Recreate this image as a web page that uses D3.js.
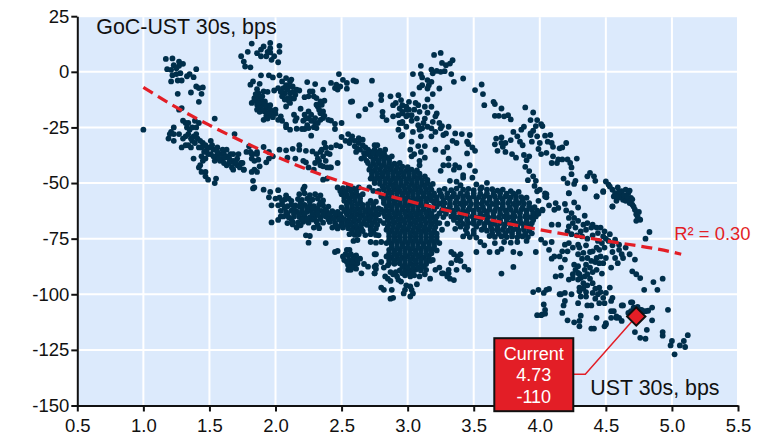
<!DOCTYPE html>
<html>
<head>
<meta charset="utf-8">
<script src="https://cdnjs.cloudflare.com/ajax/libs/d3/7.8.5/d3.min.js"></script>
<style>
  html, body { margin: 0; padding: 0; background: #fff; }
  text { font-family: "Liberation Sans", Arial, sans-serif; }
</style>
</head>
<body>
<svg id="chart"></svg>
<script>
const xTicks = [0.5, 1, 1.5, 2, 2.5, 3, 3.5, 4, 4.5, 5, 5.5];
const yTicks = [25, 0, -25, -50, -75, -100, -125, -150];

const trendX = [1, 1.25, 1.5, 2, 2.5, 3, 3.5, 4, 4.5, 5, 5.07];
const trendY = [-7, -16, -24, -38, -49.5, -58, -65, -71, -76, -81, -82];

const current = [4.73, -110];

// cluster by cluster: [UST 30s, GoC-UST 30s]
const topLeft = [[1,-26],[1.17,5.8],[1.22,6],[1.27,4.6],[1.3,3.6],[1.23,3],[1.27,2.7],[1.18,1.2],[1.21,.9],[1.25,1.6],[1.22,-1.5],[1.25,-1],[1.28,-.6],[1.21,-4.3],[1.26,-3.9],[1.29,-3.9],[1.33,-2],[1.35,-1],[1.38,-2.4],[1.4,1.2],[1.4,-6.6],[1.42,-7.3],[1.45,-7],[1.36,-9.3],[1.44,-9.9],[1.26,-9.9],[1.42,-13.5],[1.29,-16.3],[1.27,-17]];

const lowSlope = [[1.23,-25],[1.21,-27],[1.19,-30],[1.23,-28],[1.27,-28],[1.23,-31],[1.2,-28],[1.3,-22],[1.32,-23],[1.34,-23],[1.33,-25],[1.39,-22],[1.42,-23],[1.34,-28],[1.32,-29],[1.3,-30],[1.4,-28],[1.38,-29],[1.37,-31],[1.29,-34],[1.32,-33],[1.34,-33],[1.39,-32],[1.42,-34],[1.45,-32],[1.51,-31],[1.44,-34],[1.48,-35],[1.51,-37],[1.53,-35],[1.56,-34],[1.58,-37],[1.54,-40],[1.61,-37],[1.63,-35],[1.66,-37],[1.68,-37],[1.71,-39],[1.66,-40],[1.63,-42],[1.67,-43],[1.71,-42],[1.74,-41],[1.76,-44],[1.38,-39],[1.43,-42],[1.45,-40],[1.42,-43],[1.44,-45],[1.47,-45],[1.47,-47],[1.49,-48.5],[1.55,-48],[1.54,-50],[1.46,-36],[1.44,-38],[1.55,-38],[1.5,-34],[1.6,-39],[1.68,-40],[1.64,-38],[1.72,-37],[1.58,-40],[1.36,-34],[1.47,-39],[1.52,-33],[1.54,-21],[1.69,-28],[1.8,-33.5],[1.82,-37],[1.81,-36],[1.86,-36],[1.82,-45],[1.86,-45],[1.83,-49],[1.84,-52],
[1.41,-30],[1.43,-31],[1.47,-33],[1.49,-37],[1.53,-38],[1.56,-36],[1.57,-39],[1.6,-35],[1.62,-38.5],[1.65,-41],[1.69,-41],[1.65,-39],[1.61,-41],[1.68,-44],[1.7,-40.5],[1.73,-43],[1.36,-30],[1.35,-26],[1.37,-25],[1.4,-25]];

const upperMid = [[1.82,12.7],[1.74,7],[1.79,9],[1.76,4.6],[1.77,2.4],[1.81,2],[1.86,8.4],[1.89,10],[1.91,11.4],[1.89,7],[1.93,7],[1.96,13],[1.96,10.6],[1.96,8.7],[1.94,9],[1.99,7],[1.97,5.4],[2.03,11.7],[2.03,9],[2.02,4.3],
[1.89,-1.6],[1.95,-1.6],[1.98,-2.5],[2.03,-1.6],[1.83,-4.3],[1.81,-5.8],[1.88,-5.4],[1.86,-7.8],[1.87,-9.6],[1.91,-8.8],[1.94,-9],[1.99,-8.4],[1.84,-11.8],[1.82,-14],[1.87,-11.8],[1.89,-12.6],[1.92,-13.3],[1.86,-14.8],[1.88,-15.6],[1.91,-14.8],[1.93,-16.3],[1.96,-17],[1.98,-17.8],[2,-18.9],[1.97,-19.3],[1.94,-18.6],[1.92,-17.8],[1.88,-13.3],[1.86,-17],[1.91,-21.6],[1.84,-13],[1.89,-16.3],[1.93,-19.8],[1.98,-20.4],
[1.85,-10],[1.87,-14],[1.9,-11],[1.9,-17.5],[1.93,-15],[1.95,-19],[1.96,-15],[1.94,-21],[2,-17],[1.88,-18],
[2.05,-4.3],[2.08,-2.8],[2.11,-4.3],[2.02,-7.3],[2.06,-7.3],[2.1,-6.6],[2.13,-6.6],[2.16,-8],[2.18,-8.4],[2.07,-9.6],[2.11,-9.6],[2.15,-10.3],[2.05,-11],[2.09,-11.8],[2.12,-11.8],[2.11,-14],[2.08,-15.6],[2.04,-20],[2.05,-22],[2.02,-21.6],[2.08,-23.8],[2.11,-26],[2.08,-24.9],[2.14,-19.3],[2.16,-20.8],[2.19,-16.6],[2.15,-22],[2.16,-25.6],[2.2,-25.7],[2.22,-25.7],[2.25,-25.3],[2.27,-28.7],[2.21,-22],[2.25,-17.8],[2.22,-19.3],[2.25,-20.8],[2.27,-22],[2.3,-20.8],[2.27,-19.3],[2.29,-24.9],[2.31,-25.3],[2.3,-23],[2.34,-21.6],[2.36,-20.8],[2.34,-18.6],[2.36,-17.8],[2.37,-19.8],[2.32,-15.6],[2.31,-14.8],[2.35,-14.8],[2.37,-13],
[2.08,-6],[2.13,-9],[2.09,-8],[2.04,-9],[2.12,-3.5],[2.14,-12],[2.1,-13],[2.07,-12.5],[2.24,-24],[2.23,-21],[2.32,-23],[2.33,-17],
[2.24,-4.6],[2.3,-5.5],[2.36,-8],[2.22,-11.4],[2.25,-11],[2.28,-8.8],[2.26,-8.8],[2.29,-11],[2.31,-11.8],[2.34,-13.3],[2.4,-21.6],[2.42,-21.9],[2.45,-23.4],[2.45,-25.7],[2.5,-23],
[2.48,-1],[2.42,-5],[2.45,-7.3],[2.47,-8],[2.46,-5.8],[2.49,-6.6],[2.51,-3.6],[2.54,-5],[2.54,-7.6],[2.59,-3.9],[2.61,-4.3],[2.58,-13.3],[2.63,-19.8],[2.68,-16.8],[2.73,-4],[2.72,-14.7]];

const midBand = [[2.03,-35],[2.08,-35.3],[2.13,-34.6],[2.18,-33],[2.18,-35],[2.23,-35.5],[2.28,-35.8],[1.91,-33.8],[1.95,-36],[1.98,-38],[2.09,-38.6],[2.15,-39],[2.21,-40],[2.23,-40.7],[2.25,-43],[2.29,-44],[1.78,-36],[1.83,-37],[1.86,-37],[1.82,-39],[1.84,-40],[1.87,-39.5],[1.88,-42.5],[1.84,-44],[1.95,-39],[1.93,-40.7],[1.75,-41],[1.76,-44],
[2.37,-32],[2.34,-36],[2.31,-37],[2.32,-39],[2.3,-41],[2.34,-42],[2.36,-38],[2.39,-36.5],[2.42,-34],[2.46,-33],[2.49,-33.5],[2.41,-37],[2.38,-40],[2.36,-42.5],[2.39,-43],[2.42,-43],[2.47,-41],[2.36,-48.5],[2.39,-48],[2.41,-43],[2.33,-40],[2.35,-35],[2.38,-34],
[2.5,-29.3],[2.55,-28],[2.58,-29],[2.63,-29.8],[2.53,-31],[2.56,-32],[2.6,-33.5],[2.63,-32],[2.66,-33],[2.68,-34],[2.64,-35],[2.61,-36],[2.67,-36.5],[2.7,-37],[2.69,-40],[2.65,-39],[2.6,-31],[2.66,-30.5],[2.7,-35],[2.75,-33],[2.77,-33],[2.57,-30.5],[2.62,-34.5],[2.67,-38.5],[2.72,-36],[2.77,-36.5],[2.82,-37]];

const leftBlob = [[1.83,-52.4],[1.91,-53],[1.96,-54],[1.95,-56.4],[1.97,-60],[1.97,-67.7],[2.02,-66.6],[2.04,-65],[2.09,-68],[2.13,-68.6],[2.16,-70],[2.23,-73.5],[2.26,-73.8],[2.25,-76.8],[2.38,-77],[2.45,-81],[2.47,-80.5],[2.22,-51.6],[2.21,-52.8],[2.02,-53.2],
[2.18,-55],[2.22,-54.6],[2.26,-55.4],[2.3,-55],[2.34,-55.6],[2.08,-55.5],[2,-57],[2.03,-56.6],[2.07,-57.4],[2.1,-57],[2.17,-57.2],[2.2,-57.6],[2.24,-57],[2.28,-57.4],[2.32,-57],[2.36,-57.8],
[2.02,-60],[2.05,-59.6],[2.09,-60.4],[2.12,-59.8],[2.15,-60],[2.18,-60.4],[2.22,-59.8],[2.26,-60],[2.29,-60.4],[2.33,-59.8],[2.36,-60],[2.4,-60.6],
[2.04,-62.5],[2.08,-63],[2.12,-62.4],[2.16,-62.8],[2.2,-62.5],[2.24,-62.9],[2.27,-62.4],[2.31,-62.8],[2.35,-62.5],[2.39,-63],[2.43,-62.6],[2.47,-63],
[2.06,-65],[2.1,-65.4],[2.14,-65],[2.18,-65.3],[2.22,-65],[2.26,-65.5],[2.3,-65],[2.34,-65.4],[2.38,-65],[2.42,-65.3],[2.46,-65],[2.5,-65.4],
[2.13,-67.5],[2.17,-67.8],[2.21,-67.4],[2.25,-67.8],[2.31,-67.4],[2.36,-67.8],[2.41,-67.5],[2.45,-67.9],[2.5,-67.5],[2.54,-67.9],
[2.29,-70],[2.33,-70.3],[2.43,-70],[2.47,-70.4],[2.51,-70],[2.55,-70.3],[2.59,-70],
[2.47,-52],[2.51,-52.3],[2.55,-52],[2.59,-52.4],[2.63,-52],[2.5,-55],[2.54,-55.3],[2.58,-55],[2.62,-55.4],[2.66,-55],[2.52,-58],[2.56,-58.3],[2.6,-58],[2.64,-58.4],[2.72,-58],[2.76,-58.4],[2.5,-61],[2.54,-61.3],[2.58,-61],[2.62,-61.4],[2.66,-61],[2.7,-61.3],[2.74,-61],[2.78,-61.4],
[2.54,-64],[2.58,-64.3],[2.62,-64],[2.66,-64.4],[2.7,-64],[2.74,-64.3],[2.78,-64],[2.55,-67],[2.59,-67.3],[2.63,-67],[2.67,-67.4],[2.71,-67],[2.75,-67.3],[2.79,-67],[2.62,-70.2],[2.65,-70.6],[2.72,-70],[2.76,-70.4],[2.56,-73],[2.6,-73.3],[2.63,-73],[2.68,-73.4],[2.72,-73],[2.76,-73.3],[2.59,-76],[2.62,-75.6],
[2.51,-83],[2.54,-80],[2.56,-80],[2.55,-82.5],[2.59,-83],[2.61,-82.5],[2.52,-84.6],[2.56,-84.6],[2.6,-84.4],[2.64,-84],[2.62,-86],[2.55,-87],[2.59,-87],[2.55,-89],[2.57,-89],[2.61,-88.5],[2.65,-90.6],[2.7,-87.6],[2.67,-86.4],[2.75,-82],[2.76,-87],[2.76,-88.6],[2.75,-90.6]];

// second pass over the same blob, filling between the first readings
const leftBlobFill = [[2.05,-58.3],[2.12,-58],[2.19,-58.6],[2.26,-58.4],[2.34,-58.8],[2.07,-61.2],[2.14,-61.4],[2.2,-61],[2.24,-61.4],[2.28,-61.2],[2.32,-61.4],[2.38,-61.8],[2.09,-64],[2.14,-63.8],[2.18,-64],[2.22,-63.8],[2.28,-64],[2.32,-63.8],[2.36,-64],[2.41,-64],[2.45,-63.8],[2.49,-64],[2.12,-66.2],[2.2,-66.4],[2.24,-66.2],[2.28,-66.4],[2.34,-66.2],[2.4,-66.4],[2.44,-66.2],[2.48,-66.4],[2.52,-66.2],[2.46,-69],[2.5,-69],[2.54,-68.8],[2.32,-68.8],[2.19,-69],[2.49,-53.6],[2.53,-53.8],[2.57,-53.6],[2.61,-53.8],[2.52,-56.6],[2.56,-56.8],[2.6,-56.6],[2.64,-56.8],[2.54,-59.6],[2.58,-59.8],[2.62,-59.6],[2.66,-59.8],[2.7,-59.5],[2.74,-59.8],[2.52,-62.6],[2.56,-62.8],[2.6,-62.6],[2.64,-62.8],[2.68,-62.6],[2.72,-62.8],[2.76,-62.6],[2.56,-65.6],[2.6,-65.8],[2.64,-65.6],[2.68,-65.8],[2.72,-65.6],[2.76,-65.8],[2.57,-68.6],[2.61,-68.8],[2.65,-68.6],[2.69,-68.8],[2.73,-68.6],[2.77,-68.8],[2.58,-71.6],[2.62,-71.8],[2.66,-71.6],[2.74,-71.8],[2.54,-85.5],[2.58,-85.8],[2.53,-82],[2.57,-82],[2.62,-84.5],[2.58,-88]];

const coreBlob = [[2.75,-35],[2.79,-35.4],[2.83,-35],[2.72,-38],[2.76,-38.3],[2.8,-38],[2.84,-38.4],[2.88,-38],[2.7,-41],[2.74,-41.3],[2.78,-41],[2.82,-41.4],[2.86,-41],[2.9,-41.3],[2.94,-41],
[2.71,-44],[2.75,-44.3],[2.79,-44],[2.83,-44.4],[2.87,-44],[2.91,-44.3],[2.95,-44],[2.99,-44.4],[3.03,-44],[3.07,-44.3],
[2.73,-47],[2.77,-47.3],[2.81,-47],[2.85,-47.4],[2.89,-47],[2.93,-47.3],[2.97,-47],[3.01,-47.4],[3.05,-47],[3.09,-47.3],[3.13,-47],
[2.75,-50],[2.79,-50.3],[2.83,-50],[2.87,-50.4],[2.91,-50],[2.95,-50.3],[2.99,-50],[3.03,-50.4],[3.07,-50],[3.11,-50.3],[3.15,-50],[3.19,-50.4],
[2.82,-53],[2.86,-53.3],[2.9,-53],[2.94,-53.4],[2.98,-53],[3.02,-53.3],[3.06,-53],[3.1,-53.4],[3.14,-53],[2.8,-56],[2.84,-56.3],[2.88,-56],[2.92,-56.4],[2.96,-56],[3,-56.3],[3.04,-56],[3.08,-56.4],[3.12,-56],[3.16,-56.3],
[2.82,-59],[2.86,-59.3],[2.9,-59],[2.94,-59.4],[2.98,-59],[3.02,-59.3],[3.06,-59],[3.1,-59.4],[3.14,-59],[2.8,-62],[2.84,-62.3],[2.88,-62],[2.92,-62.4],[2.96,-62],[3,-62.3],[3.04,-62],[3.08,-62.4],[3.12,-62],[3.16,-62.3],
[2.83,-65],[2.87,-65.3],[2.91,-65],[2.95,-65.4],[2.99,-65],[3.03,-65.3],[3.07,-65],[3.11,-65.4],[3.15,-65],[3.19,-65.3],[2.82,-68],[2.86,-68.3],[2.9,-68],[2.94,-68.4],[2.98,-68],[3.02,-68.3],[3.06,-68],[3.1,-68.4],[3.14,-68],[3.18,-68.3],[3.22,-68],
[2.72,-71],[2.84,-71],[2.88,-71.3],[2.92,-71],[2.96,-71.4],[3,-71],[3.04,-71.3],[3.08,-71],[3.12,-71.4],[3.16,-71],[3.2,-71.3],[2.78,-73.5],[2.86,-74],[2.9,-74.3],[2.94,-74],[2.98,-74.4],[3.02,-74],[3.06,-74.3],[3.1,-74],[3.14,-74.4],[3.18,-74],[3.22,-74.3],
[2.72,-76.5],[2.76,-76.8],[2.8,-76.5],[2.84,-77],[2.88,-77.3],[2.92,-77],[2.96,-77.4],[3,-77],[3.04,-77.3],[3.08,-77],[3.12,-77.4],[3.16,-77],[3.2,-77.3],[3.24,-77],
[2.86,-80],[2.9,-80.3],[2.94,-80],[2.98,-80.4],[3.02,-80],[3.06,-80.3],[3.1,-80],[3.14,-80.4],[3.18,-80],[3.22,-80.3],[2.84,-83],[2.88,-83.3],[2.92,-83],[2.96,-83.4],[3,-83],[3.04,-83.3],[3.08,-83],[3.12,-83.4],[3.16,-83],
[2.8,-85.5],[2.86,-86],[2.9,-86.3],[2.94,-86],[2.98,-86.4],[3.02,-86],[3.06,-86.3],[3.1,-86],[3.14,-86.4],[2.98,-89],[2.94,-89.3],[3.02,-89.3],[3.06,-89],[3.1,-89.3],[3.14,-89],[2.98,-91.5],[3.02,-92],[3.05,-91.5]];

const coreFill = [[2.74,-36.6],[2.78,-36.8],[2.82,-36.6],[2.86,-39.6],[2.74,-39.6],[2.78,-39.8],[2.82,-39.6],[2.72,-42.6],[2.76,-42.8],[2.8,-42.6],[2.84,-42.8],[2.88,-42.6],[2.92,-42.8],[2.96,-42.6],[3,-42.8],[2.73,-45.6],[2.77,-45.8],[2.81,-45.6],[2.85,-45.8],[2.89,-45.6],[2.93,-45.8],[2.97,-45.6],[3.01,-45.8],[3.05,-45.6],[3.09,-45.8],[2.75,-48.6],[2.79,-48.8],[2.83,-48.6],[2.87,-48.8],[2.91,-48.6],[2.95,-48.8],[2.99,-48.6],[3.03,-48.8],[3.07,-48.6],[3.11,-48.8],[3.15,-48.6],[2.81,-51.6],[2.85,-51.8],[2.89,-51.6],[2.93,-51.8],[2.97,-51.6],[3.01,-51.8],[3.05,-51.6],[3.09,-51.8],[3.13,-51.6],[3.17,-51.8],[2.84,-54.6],[2.88,-54.8],[2.92,-54.6],[2.96,-54.8],[3,-54.6],[3.04,-54.8],[3.08,-54.6],[3.12,-54.8],[3.16,-54.6],[2.82,-57.6],[2.86,-57.8],[2.9,-57.6],[2.94,-57.8],[2.98,-57.6],[3.02,-57.8],[3.06,-57.6],[3.1,-57.8],[3.14,-57.6],[3.18,-57.8],[2.84,-60.6],[2.88,-60.8],[2.92,-60.6],[2.96,-60.8],[3,-60.6],[3.04,-60.8],[3.08,-60.6],[3.12,-60.8],[3.16,-60.6],[2.82,-63.6],[2.86,-63.8],[2.9,-63.6],[2.94,-63.8],[2.98,-63.6],[3.02,-63.8],[3.06,-63.6],[3.1,-63.8],[3.14,-63.6],[3.18,-63.8],[2.85,-66.6],[2.89,-66.8],[2.93,-66.6],[2.97,-66.8],[3.01,-66.6],[3.05,-66.8],[3.09,-66.6],[3.13,-66.8],[3.17,-66.6],[3.21,-66.8],[2.85,-69.6],[2.89,-69.8],[2.93,-69.6],[2.97,-69.8],[3.01,-69.6],[3.05,-69.8],[3.09,-69.6],[3.13,-69.8],[3.17,-69.6],[3.21,-69.8],[2.86,-72.6],[2.9,-72.8],[2.94,-72.6],[2.98,-72.8],[3.02,-72.6],[3.06,-72.8],[3.1,-72.6],[3.14,-72.8],[3.18,-72.6],[3.22,-72.8],[2.86,-75.6],[2.9,-75.8],[2.94,-75.6],[2.98,-75.8],[3.02,-75.6],[3.06,-75.8],[3.1,-75.6],[3.14,-75.8],[3.18,-75.6],[3.22,-75.8],[2.88,-78.6],[2.92,-78.8],[2.96,-78.6],[3,-78.8],[3.04,-78.6],[3.08,-78.8],[3.12,-78.6],[3.16,-78.8],[3.2,-78.6],[2.86,-81.6],[2.9,-81.8],[2.94,-81.6],[2.98,-81.8],[3.02,-81.6],[3.06,-81.8],[3.1,-81.6],[3.14,-81.8],[3.18,-81.6],[2.86,-84.6],[2.9,-84.8],[2.94,-84.6],[2.98,-84.8],[3.02,-84.6],[3.06,-84.8],[3.1,-84.6],[3.14,-84.8],[2.96,-87.6],[3,-87.8],[3.04,-87.6],[3.08,-87.8],[3.12,-87.6],[3,-90.4],[3.04,-90.6],[2.96,-90.6],[2.72,-48],[2.71,-52],[2.74,-53.5],[2.78,-53.5]];

const coreLobes = [[2.76,-82],[2.75,-87.6],[2.75,-90.6],[2.82,-88],[2.85,-87],[2.83,-92],[2.85,-93],[2.89,-91],[2.92,-92],[2.95,-94.3],[2.93,-93.5],[2.87,-94],[2.82,-98],[2.8,-97],[2.88,-98],[2.87,-102],[2.89,-101.6],[2.97,-99.6],[2.98,-98],[3.02,-96.5],[3.03,-98],[3.04,-99.6],[3.02,-101],[3.07,-95.5],[2.99,-96],[2.87,-90],[2.91,-90],
[3.09,-92],[3.13,-91],[3.17,-93],[3.21,-89],[3.26,-90.6],[3.3,-92],[3.32,-93],[3.35,-93.6],[3.31,-89],[3.33,-86],[3.31,-90.6],[3.37,-89],[3.4,-85],[3.37,-84.6],[3.43,-87.6],[3.46,-89],[3.33,-81],[3.35,-82],[3.38,-83],[3.4,-82],[3.17,-85],[3.19,-84.6],[3.24,-88],[3.27,-90.6]];

const upperBand = [[2.95,-12.7],[3.01,-13.5],[3.08,-15],[3.05,-17],[2.99,-15.7],[2.96,-18],[3.03,-19.5],[3.13,-15.7],[3.18,-15.7],[3.09,-18],[3.15,-18.4],[3.22,-18.7],[3.21,-20],[3.13,-21],[3.19,-22.5],[3.24,-23],[3.26,-24.4],[3.31,-24.7],[3.27,-28.4],[3.29,-27.7],[3.18,-25.4],[3.15,-24.7],[3.11,-25.4],[3.08,-24],[3.04,-27],[3.09,-26],[3.1,-29],[3.18,-29],[3.21,-27],[3.25,-25.4],[2.95,-29],[2.99,-24.7],[3,-19.5],[2.96,-23],[3.03,-31.4],[3.08,-33.4],[3.13,-33.4],[3.02,-35],[3.1,-36],[3.05,-37],[3.03,-38],[3.09,-40],[3.13,-38.6],[3.09,-42],[3.21,-35],[3.27,-36],[3.3,-34],[3.34,-31],[3.37,-32],[3.36,-27.7],[3.41,-28],[3.47,-28.4],[3.45,-31.4],[3.46,-32.5],[3.49,-34],[3.51,-35.5],[3.45,-36.7],[3.31,-39],[3.31,-42],[3.27,-42],[3.25,-44.5],[3.36,-42],[3.39,-43],[3.35,-44],[3.47,-42],[3.42,-46.4],[3.42,-47.6],[3.51,-44.6],[3.49,-47.6],[3.32,-49],[3.37,-49.4],[3.4,-51],[3.52,-50.6],[3.6,-49.9],[3.56,-52],
[3.2,7.6],[3.25,8.5],[3.1,2.7],[3.26,4],[3.29,3],[3.34,5.2],[3.32,3.7],[3.04,-1],[3.1,-1],[3.11,-2.5],[3.18,1],[3.19,-.7],[3.22,.4],[3.25,0],[3.28,.3],[3.33,-1],[3.35,-4.5],[3.42,-3],[3.15,-3.7],[3.18,-4.5],[3.16,-6],[3.11,-6],[3.09,-7],[3.15,-7.5],[3.24,-7.5],[3.19,-10],[3.15,-12.4],[3.04,-10],
[3.51,-8.2],[3.56,-5.7],[3.57,-10],[3.58,-15],[3.65,-13.5],[3.66,-14.5],[3.71,-16.5],[3.66,-19.8],[3.69,-19.8],[3.73,-20],[3.76,-19.5],[3.78,-21.4],[3.89,-16],[3.95,-18.3],[3.93,-21.7],[3.98,-21.7],[4.01,-23.5],[4.02,-24.4],[3.97,-24.4],[3.95,-26.5],[3.88,-24.7],[3.86,-26],[3.8,-27],[3.93,-27.7],[3.83,-29],[3.78,-30.7],[3.71,-29.5],[3.67,-30],[3.66,-32.6],[3.71,-32],[3.74,-32],[3.72,-33.7],[3.68,-35.5],[3.74,-36],[3.79,-37],[3.82,-38.6],[3.85,-31.4],[3.87,-33],[3.93,-28.4],[3.94,-31.4],[3.98,-29],[4.04,-28.7],[4.08,-28.4],[4,-32],[3.99,-34.7],[4.06,-31.4],[4.09,-32],[4.1,-33.7],[4.15,-34.4],[4.17,-34],[4.2,-32],[4.01,-37],[4.05,-36.4],[4.1,-38],[4.14,-39.4],[4.09,-41],[4.13,-41],[4.17,-39.4],[4.21,-39.4],[4.28,-39],[4.23,-41],[4.24,-43],[3.88,-37.4],[3.92,-38],[3.9,-39.7],[3.89,-42.7],[3.92,-44.6],[3.95,-47],[3.91,-48.7],[3.97,-49],[3.96,-51.3],[4,-53],[4.04,-54.6],[4.05,-56.4],[4.24,-46],[4.18,-48],[4.21,-50],[4.27,-49],[4.26,-50.4],[4.36,-47],[4.38,-45.4],[4.41,-47],[4.42,-49],[4.34,-52.4],[4.22,-54.6],[4.43,-56],[4.48,-54],
[2.8,-10.5],[2.87,-11],[2.93,-10.5],[2.8,-12.7],[2.91,-14],[2.96,-15],[2.89,-15],[2.99,-17],[2.96,-18.7],[2.81,-18],[2.81,-20],[2.84,-21.7],[2.89,-20],[2.93,-19.5],[2.96,-22.5],[2.94,-23],[2.93,-26],[2.96,-28.4],[2.57,-13.5],[2.99,-20],[2.94,-16.5],[3.03,-22],[3.07,-21],[3.06,-14],[3.01,-17],[3.12,-23]];

const topRight = [[4.5,-49.3],[4.52,-50.7],[4.55,-53],[4.59,-52],[4.62,-53.7],[4.65,-53],[4.67,-54.5],[4.56,-56],[4.58,-58],[4.55,-60.5],[4.63,-57.5],[4.65,-58],[4.69,-56.7],[4.7,-59.7],[4.68,-53.4],[4.72,-62],[4.73,-64],[4.76,-66.5],[4.73,-67],[4.53,-51.6],[4.59,-55],[4.62,-56],[4.6,-56.5],[4.7,-57.3],[4.67,-57],[4.68,-59],[4.71,-60.6],[4.55,-60.6],[4.83,-72],[4.8,-75],[4.57,-54.5],[4.6,-54],[4.64,-55.5],[4.58,-56],[4.66,-56],[4.74,-65],[4.75,-63]];

const rightBand = [[3.18,-53],[3.24,-53.3],[3.28,-52.6],[3.33,-53.2],[3.37,-52.5],[3.42,-53],[3.46,-52.6],[3.5,-53.2],[3.55,-52.8],[3.6,-53],[3.64,-52.8],[3.68,-53.4],[3.72,-53],[3.78,-53.6],[3.84,-54],
[3.18,-56],[3.22,-56.3],[3.26,-56],[3.3,-56.4],[3.34,-56],[3.38,-56.3],[3.42,-56],[3.46,-56.4],[3.5,-56],[3.54,-56.3],[3.58,-56],[3.62,-56.4],[3.66,-56],[3.7,-56.3],[3.74,-56],[3.78,-56.4],[3.82,-56],[3.86,-56.3],[3.9,-56.6],
[3.2,-59],[3.24,-59.3],[3.28,-59],[3.32,-59.4],[3.36,-59],[3.4,-59.3],[3.44,-59],[3.48,-59.4],[3.52,-59],[3.56,-59.3],[3.6,-59],[3.64,-59.4],[3.68,-59],[3.72,-59.3],[3.76,-59],[3.8,-59.4],[3.84,-59],[3.88,-59.3],[3.92,-59],
[3.2,-62],[3.26,-62.3],[3.3,-62],[3.34,-62.4],[3.38,-62],[3.42,-62.3],[3.46,-62],[3.5,-62.4],[3.54,-62],[3.58,-62.3],[3.62,-62],[3.66,-62.4],[3.7,-62],[3.74,-62.3],[3.78,-62],[3.82,-62.4],[3.86,-62],[3.9,-62.3],[3.94,-62],[3.98,-62.4],
[3.22,-65],[3.27,-65.3],[3.33,-65],[3.37,-65.4],[3.41,-65],[3.45,-65.3],[3.49,-65],[3.53,-65.4],[3.57,-65],[3.61,-65.3],[3.65,-65],[3.69,-65.4],[3.73,-65],[3.77,-65.3],[3.81,-65],[3.85,-65.4],[3.89,-65],[3.93,-65.3],[3.97,-65],
[3.24,-68],[3.3,-68.3],[3.38,-68],[3.42,-68.4],[3.46,-68],[3.5,-68.3],[3.54,-68],[3.58,-68.4],[3.62,-68],[3.66,-68.3],[3.7,-68],[3.74,-68.4],[3.78,-68],[3.82,-68.3],[3.86,-68],[3.9,-68.4],[3.94,-68],
[3.26,-71],[3.36,-70.6],[3.44,-71],[3.5,-71.3],[3.56,-71],[3.6,-71.4],[3.64,-71],[3.68,-71.3],[3.72,-71],[3.76,-71.4],[3.8,-71],[3.84,-71.3],[3.88,-71],[3.92,-71.4],
[3.42,-74],[3.47,-74.3],[3.52,-74.5],[3.62,-73.8],[3.66,-74.2],[3.71,-74],[3.75,-74.3],[3.79,-74],[3.83,-74.4],[3.87,-74],[3.91,-74.3],[3.55,-76.5],[3.58,-78],[3.66,-77],[3.73,-76.5],[3.78,-76.8],[3.83,-76.5],[3.9,-76],
[3.68,-81],[3.52,-81],[3.62,-81],[3.71,-79.6],[3.85,-81.7],[3.8,-81],[3.8,-87.7],[3.71,-90.7]];

const rightBandFill = [[3.2,-54.6],[3.25,-54.8],[3.3,-54.6],[3.35,-54.8],[3.4,-54.6],[3.45,-54.8],[3.5,-54.6],[3.55,-54.8],[3.6,-54.6],[3.65,-54.8],[3.7,-54.6],[3.75,-54.8],[3.8,-54.6],[3.22,-57.6],[3.27,-57.8],[3.32,-57.6],[3.37,-57.8],[3.42,-57.6],[3.47,-57.8],[3.52,-57.6],[3.57,-57.8],[3.62,-57.6],[3.67,-57.8],[3.72,-57.6],[3.77,-57.8],[3.82,-57.6],[3.87,-57.8],[3.22,-60.6],[3.27,-60.8],[3.32,-60.6],[3.37,-60.8],[3.42,-60.6],[3.47,-60.8],[3.52,-60.6],[3.57,-60.8],[3.62,-60.6],[3.67,-60.8],[3.72,-60.6],[3.77,-60.8],[3.82,-60.6],[3.87,-60.8],[3.92,-60.6],[3.96,-60.8],[3.24,-63.6],[3.29,-63.8],[3.35,-63.6],[3.4,-63.8],[3.45,-63.6],[3.5,-63.8],[3.55,-63.6],[3.6,-63.8],[3.65,-63.6],[3.7,-63.8],[3.75,-63.6],[3.8,-63.8],[3.85,-63.6],[3.9,-63.8],[3.95,-63.6],[3.99,-63.8],[3.35,-66.6],[3.4,-66.8],[3.45,-66.6],[3.5,-66.8],[3.55,-66.6],[3.6,-66.8],[3.65,-66.6],[3.7,-66.8],[3.75,-66.6],[3.8,-66.8],[3.85,-66.6],[3.9,-66.8],[3.95,-66.6],[3.4,-69.6],[3.45,-69.8],[3.52,-69.6],[3.58,-69.8],[3.63,-69.6],[3.68,-69.8],[3.73,-69.6],[3.78,-69.8],[3.83,-69.6],[3.88,-69.8],[3.93,-69.6],[3.64,-72.6],[3.69,-72.8],[3.74,-72.6],[3.79,-72.8],[3.84,-72.6],[3.89,-72.8],[3.94,-72.6],[3.45,-72.6],[3.5,-72.8]];

const lowerRight = [[3.99,-58],[4.02,-62],[4.07,-60],[4.12,-59],[4.19,-59.4],[4.26,-58.7],[4.04,-56],[3.98,-53.7],[4.05,-55],[4.22,-54.5],[4.34,-52],[4.43,-56],[4.48,-53.7],
[4.11,-62],[4.14,-61.2],[4.02,-62.3],[4.2,-62.3],[4.24,-63.5],[4.29,-61],[4.34,-64.7],[4.09,-68.7],[4.14,-68.7],[4.22,-65.7],[4.26,-65.7],[4.29,-67],[4.33,-68.7],[4.36,-68],[4.4,-68.7],[4.43,-70],[4.46,-70],[4.49,-71.7],[4.53,-73],[4.25,-68],[4.22,-69.5],[4.21,-71.7],[4.27,-70],[4.31,-71.7],[4.35,-71],[4.39,-70],[4.44,-72.5],[4.48,-74],[4.52,-76],[4.57,-75.5],[4.6,-77.7],[4.65,-79],[4.68,-82],[4.72,-84.4],[4.7,-89.7],[4.73,-91],[4.76,-92.7],
[4.01,-75.4],[4.04,-77],[4.09,-76.5],[4.07,-80],[3.97,-81],[4.09,-84],[4.11,-83],[4.15,-83],[4.19,-84.4],[4.17,-80.7],[4.21,-80.7],[4.22,-77],[4.19,-77.7],[4.25,-79],[4.29,-77.7],[4.29,-82],[4.33,-81.4],[4.36,-83.7],[4.39,-85],[4.43,-83.7],[4.46,-83],[4.5,-83.7],[4.48,-86],[4.54,-88],[4.59,-86],[4.63,-83.7],[4.57,-83.7],[4.35,-86.7],[4.32,-84],[4.4,-80.7],[4.45,-80],[4.49,-79],[4.26,-86.7],[4.29,-87.4],[4.16,-88],[4.12,-92],[4.16,-91.6],[4.22,-93.4],[4.25,-91],[4.29,-90.4],[4.31,-92.7],[4.34,-92],[4.36,-91],[4.47,-90.7],[4.25,-92.7],[4.29,-93.4],[4.33,-95],[4.4,-95],[4.3,-97],[4.3,-98.6],[4.35,-99],[4.45,-97],[4.53,-97],[4.5,-99.4],[4.4,-99.4],[4.44,-100],[4.48,-101.6],[4.35,-101],[4.31,-101],[4.49,-104],[4.45,-104],[4.39,-105],[4.36,-105],[4.55,-101.6],[4.54,-103],[4.24,-100],[4.16,-100],[4.19,-99.4],[4.19,-103],[4.18,-105],[4.29,-104],[4.17,-108.4],[4.31,-109.6],[4.21,-111.7],[4.26,-112.6],[4.3,-112],[4.3,-114.4],[4.39,-115.4],[4.41,-115.4],[4.43,-110.6],[4.49,-114.4],[4.5,-113],[4.54,-110.6],[4.58,-110.6],[4.6,-110.6],[4.62,-105],[4.54,-107.6],[4.69,-103.6],[4.67,-108.4],[4.71,-106],[4.76,-107],[4.8,-107.6],[4.72,-117],[4.76,-119.6],[4.8,-120],
[4.24,-73],[4.28,-73.5],[4.32,-74],[4.36,-75],[4.4,-73.5],[4.44,-76],[4.47,-77],[4.3,-79],[4.35,-78],[4.38,-81],[4.43,-79],[4.5,-75],[4.55,-78],[4.55,-81],[4.6,-80],[4.62,-82],[4.42,-85.5],[4.45,-86],[4.38,-88],[4.34,-89],[4.4,-90],[4.43,-89],[4.27,-89],[4.3,-91],[4.38,-93],[4.36,-96],[4.33,-97.5],[4.42,-97.5],[4.46,-99],[4.42,-102],
[3.95,-99],[3.99,-98],[4.03,-99.4],[4.05,-98],[4.07,-97.6],[4.15,-100],[4.03,-104.6],[4.04,-107],[4.02,-109],[3.98,-109.4],[4.01,-109.4],[4.04,-108.7],
[4.79,-98],[4.86,-94.5],[4.93,-93],[4.89,-98],[4.97,-107],[4.85,-106],[4.78,-107.6],[4.85,-111.7],[4.81,-116],[4.93,-117],[4.93,-118.6],[5,-121],[4.99,-123],[5.06,-123],[5.09,-121],[5.12,-118.4],[5.1,-123.7],[5.02,-127],[4.7,-103.6],[4.63,-105],[4.56,-107.6],[4.58,-110],[4.62,-112],[4.5,-113.6],[4.77,-107],[4.69,-107.6],[4.74,-105.7],[4.82,-107.4]];

const points = [...topLeft, ...lowSlope, ...upperMid, ...midBand, ...leftBlob, ...leftBlobFill, ...coreBlob, ...coreFill, ...coreLobes, ...upperBand, ...topRight, ...rightBand, ...rightBandFill, ...lowerRight];

const margin = { top: 16.2, right: 37, bottom: 36.5, left: 77.3 },
  width = 775 - margin.left - margin.right,
  height = 442 - margin.top - margin.bottom;

const svg = d3
  .select("#chart")
  .attr("width", 775)
  .attr("height", 442)
  .style("display", "block")
  .append("g")
  .attr("transform", `translate(${margin.left},${margin.top})`);

const x = d3.scaleLinear().domain([0.5, 5.5]).range([0, width]);
const y = d3.scaleLinear().domain([-150, 25]).range([height, 0]);

svg.append("rect").attr("width", x(5.5) - 1).attr("y", 1).attr("height", height - 1).attr("fill", "#dceafc");

svg.selectAll(".grid-x")
  .data(xTicks.slice(1, -1))
  .enter().append("line")
  .attr("x1", (d) => x(d)).attr("x2", (d) => x(d))
  .attr("y1", 1).attr("y2", height)
  .attr("stroke", "#fff").attr("stroke-width", 2);

svg.selectAll(".grid-y")
  .data(yTicks.slice(1, -1))
  .enter().append("line")
  .attr("x1", 0).attr("x2", x(5.5) - 1)
  .attr("y1", (d) => y(d)).attr("y2", (d) => y(d))
  .attr("stroke", "#fff").attr("stroke-width", 2);

svg.selectAll(".dot")
  .data(points)
  .enter().append("circle")
  .attr("cx", (d) => x(d[0]))
  .attr("cy", (d) => y(d[1]))
  .attr("r", 2.9)
  .attr("fill", "#002f4b");

const trend = d3.line()
  .x((d) => x(d[0]))
  .y((d) => y(d[1]))
  .curve(d3.curveMonotoneX);

svg.append("path")
  .attr("d", trend(trendX.map((d, i) => [d, trendY[i]])))
  .attr("fill", "none")
  .attr("stroke", "#e31e26")
  .attr("stroke-width", 3.2)
  .attr("stroke-dasharray", "11,6");

const xAxis = svg.append("g")
  .attr("transform", `translate(0,${height})`)
  .call(d3.axisBottom(x).tickValues(xTicks).tickFormat(d3.format(".1f")).tickSize(6).tickSizeOuter(0));
const yAxis = svg.append("g")
  .call(d3.axisLeft(y).tickValues(yTicks).tickFormat((d) => d).tickSize(6).tickSizeOuter(0));

[xAxis, yAxis].forEach((a) => {
  a.selectAll("path, line").attr("stroke", "#111").attr("stroke-width", 2);
  a.selectAll("text").attr("fill", "#111").style("font-size", "18.5px").style("font-family", '"Liberation Sans", Arial, sans-serif');
});
xAxis.selectAll("text").attr("y", 13);
yAxis.selectAll("text").attr("x", -8);

// callout and current point
const boxLeft = 417, boxTop = 322, boxW = 79, boxH = 73;
svg.append("path")
  .attr("d", `M${boxLeft + boxW},${358} L${508},${358} L${x(current[0])},${y(current[1])}`)
  .attr("fill", "none").attr("stroke", "#e31e26").attr("stroke-width", 1.5);

svg.append("rect")
  .attr("x", x(current[0]) - 6.5).attr("y", y(current[1]) - 6.5)
  .attr("width", 13).attr("height", 13)
  .attr("transform", `rotate(45,${x(current[0])},${y(current[1])})`)
  .attr("fill", "#e31e26").attr("stroke", "#111").attr("stroke-width", 2);

svg.append("rect")
  .attr("x", boxLeft).attr("y", boxTop)
  .attr("width", boxW).attr("height", boxH)
  .attr("fill", "#e31e26").attr("stroke", "#111").attr("stroke-width", 2);

["Current", current[0], current[1]].forEach((t, i) => {
  svg.append("text")
    .attr("x", boxLeft + boxW / 2)
    .attr("y", boxTop + 21.5 + i * 21.5)
    .attr("text-anchor", "middle")
    .attr("fill", "#fff")
    .style("font-size", "18px")
    .text(t);
});

svg.append("text").attr("x", 19).attr("y", 18).attr("fill", "#111").style("font-size", "21.4px").text("GoC-UST 30s, bps");
svg.append("text").attr("x", 513).attr("y", 378.5).attr("fill", "#111").style("font-size", "21.4px").text("UST 30s, bps");
svg.append("text").attr("x", 597).attr("y", 223.5).attr("fill", "#e31e26").style("font-size", "18.4px").text("R² = 0.30");
</script>
</body>
</html>
